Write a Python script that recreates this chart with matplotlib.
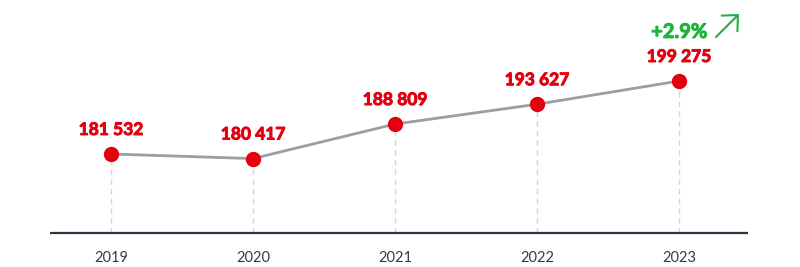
import matplotlib
matplotlib.use("Agg")
import matplotlib.pyplot as plt
from matplotlib import patheffects

years = ["2019", "2020", "2021", "2022", "2023"]
values = [181532, 180417, 188809, 193627, 199275]
labels = ["181 532", "180 417", "188 809", "193 627", "199 275"]
growth = "+2.9%"

red = "#e3000f"
green = "#1fb33a"
base = 162330

fig = plt.figure(figsize=(8, 2.67), dpi=100)
ax = fig.add_axes([0, 0, 1, 1])
ax.set_xlim(-0.782, 4.852)
ax.set_ylim(154065, 218965)
ax.axis("off")

x = list(range(len(years)))

# dashed drop lines
for xi, v in zip(x, values):
    ax.plot([xi, xi], [base, v], color="#d6d6d6", lw=1, ls=(0, (4, 3)), zorder=1)

# baseline
ax.plot([-0.43, 4.486], [base, base], color="#2b3445", lw=1.6, zorder=2,
        solid_capstyle="butt")

ax.plot(x, values, color="#9a9fa5", lw=2, zorder=3)
ax.plot(x, values, "o", color=red, markersize=10, zorder=4)

for xi, v, lab in zip(x, values, labels):
    ax.annotate(lab, (xi, v), xytext=(0, 13.7), textcoords="offset points",
                ha="center", va="baseline", color=red, fontsize=12.5,
                fontweight="bold", family="Lato",
                path_effects=[patheffects.withStroke(linewidth=0.7, foreground=red)])

for xi, yr in zip(x, years):
    ax.annotate(yr, (xi, base), xytext=(0, -13), textcoords="offset points",
                ha="center", va="top", color="#3a3a3a", fontsize=10.5, family="Lato")

ax.annotate(growth, (x[-1], values[-1]), xytext=(0, 31), textcoords="offset points",
            ha="center", va="baseline", color=green, fontsize=14.5,
            fontweight="bold", family="Lato",
            path_effects=[patheffects.withStroke(linewidth=0.7, foreground=green)])

# growth arrow, placed in pixel coordinates of the figure
inv = ax.transData.inverted()
arr_start = inv.transform((716, 267 - 37))
arr_end = inv.transform((739, 267 - 14))
ax.annotate("", xy=arr_end, xytext=arr_start,
            arrowprops=dict(arrowstyle="->,head_length=0.85,head_width=0.8",
                            color=green, lw=1.5, shrinkA=0, shrinkB=0))

fig.savefig("out.png", dpi=100)
